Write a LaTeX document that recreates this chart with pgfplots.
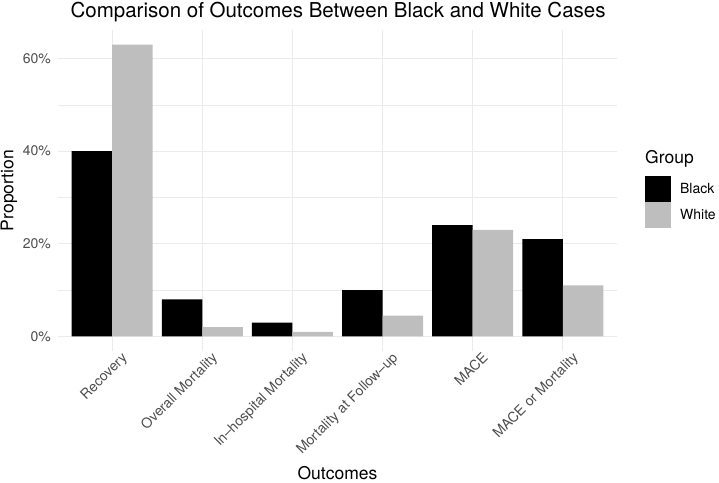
\documentclass[border=0pt]{standalone}
\usepackage{pgfplots}
\pgfplotsset{compat=1.18}
\usepackage{fontspec}
\setmainfont{TeX Gyre Heros}

\definecolor{gridc}{HTML}{EBEBEB}
\definecolor{ticktext}{HTML}{4D4D4D}
\definecolor{whitebar}{HTML}{BEBEBE}

\newcommand{\fs}[1]{\fontsize{#1}{#1}\selectfont}

\begin{document}
\begin{tikzpicture}
% page frame: the axis box has its lower left corner at the origin
\useasboundingbox (-58pt,-131pt) rectangle (661pt,351pt);
\begin{axis}[
  at={(0,0)}, anchor=south west,
  scale only axis, width=559pt, height=321pt,
  xmin=-0.6, xmax=5.6, ymin=-3.15, ymax=66.15,
  ybar=0pt, bar width=40.5pt,
  axis line style={draw=none}, major tick style={draw=none}, minor tick style={draw=none},
  xtick={0,...,5},
  xticklabels={Recovery, Overall Mortality, In--hospital Mortality, Mortality at Follow--up, MACE, MACE or Mortality},
  xticklabel style={rotate=45, anchor=north east, inner sep=0pt, font=\fs{14}, text=ticktext, yshift=-3pt, xshift=9pt},
  ytick={0,20,40,60}, yticklabels={0\%,20\%,40\%,60\%},
  yticklabel style={font=\fs{14}, text=ticktext, inner sep=0pt, xshift=-7pt},
  minor ytick={10,30,50},
  ymajorgrids, yminorgrids, xmajorgrids,
  major grid style={gridc, line width=1pt},
  minor grid style={gridc, line width=0.5pt},
  xlabel={Outcomes}, ylabel={Proportion},
  xlabel style={font=\fs{17.5}, at={(axis description cs:0.5,-0.380)}, anchor=center},
  ylabel style={font=\fs{17.5}, at={(axis description cs:-0.088,0.5)}, anchor=center},
  title={Comparison of Outcomes Between Black and White Cases},
  title style={font=\fs{20.5}, at={(axis description cs:0.501,1.021)}, anchor=base},
  legend style={at={(axis description cs:1.050,0.545)}, anchor=north west, draw=none, fill=none,
    inner sep=0pt, row sep=0pt, column sep=9pt, font=\fs{14},
    nodes={inner sep=0pt}, cells={anchor=west}},
  legend image code/.code={\fill[#1] (0pt,-13pt) rectangle (26pt,13pt);},
]
\addplot[fill=black, draw=none] coordinates {(0,40) (1,8) (2,3) (3,10) (4,24) (5,21)};
\addlegendentry{Black}
\addplot[fill=whitebar, draw=none] coordinates {(0,63) (1,2) (2,1) (3,4.5) (4,23) (5,11)};
\addlegendentry{White}
\end{axis}
% legend title
\node[anchor=base west, font=\fs{17.5}, inner sep=0pt] at (587pt,187pt) {Group};
\end{tikzpicture}
\end{document}
